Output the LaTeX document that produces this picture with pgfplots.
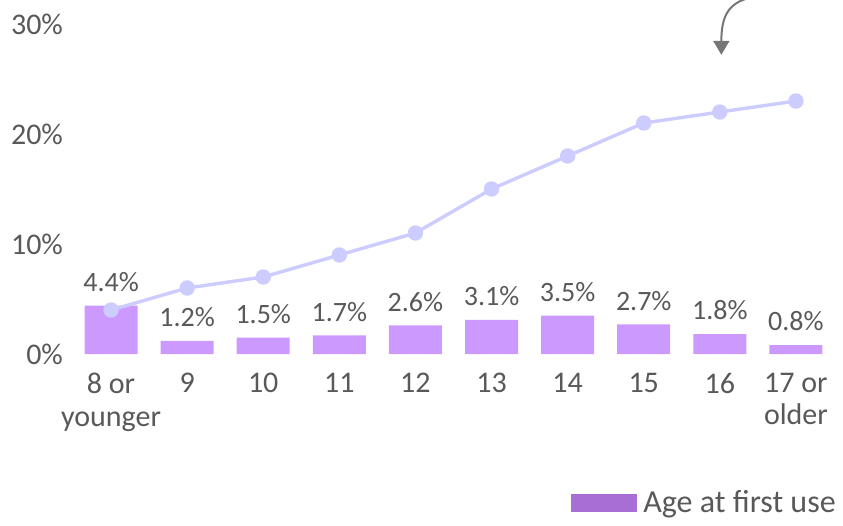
\documentclass[border=0pt]{standalone}
\usepackage{fontspec}
\setmainfont{Carlito}
\usepackage{pgfplots}
\pgfplotsset{compat=1.18}
\usetikzlibrary{calc,arrows.meta}

\definecolor{barpurple}{RGB}{204,153,255}
\definecolor{linelav}{RGB}{204,204,255}
\definecolor{legpurple}{RGB}{168,110,214}
\definecolor{txtgray}{RGB}{89,89,89}
\definecolor{arrowgray}{RGB}{118,118,118}

\begin{document}
\begin{tikzpicture}
\begin{axis}[
  name=ax,
  at={(0,0)}, anchor=south west,
  scale only axis,
  width=380.5pt, height=165pt,
  xmin=-0.5, xmax=9.5,
  ymin=0, ymax=30,
  clip=false,
  axis line style={draw=none},
  tick style={draw=none},
  /pgf/number format/assume math mode=true,
  ytick={0,10,20,30},
  yticklabels={0\%,10\%,20\%,30\%},
  yticklabel style={font=\fontsize{15}{16}\selectfont, text=txtgray, xshift=-1.5pt},
  xtick={0,...,9},
  xticklabels={{8 or\\younger},9,10,11,12,13,14,15,16,{17 or\\older}},
  xticklabel style={font=\fontsize{15}{16.3}\selectfont, text=txtgray, align=center, anchor=north, yshift=-6pt},
  legend style={at={(rel axis cs:1.012,-0.452)}, anchor=east, draw=none, fill=none,
    font=\fontsize{16}{18}\selectfont, text=txtgray, inner sep=0pt,
    nodes={inner xsep=3.5pt, inner ysep=0pt}},
  legend cell align=left,
]
\addplot[ybar, bar width=26.5pt, fill=barpurple, draw=none, forget plot,
  point meta=y,
  nodes near coords={\pgfmathprintnumber[fixed,precision=1,fixed zerofill]{\pgfplotspointmeta}\%},
  every node near coord/.append style={font=\fontsize{14}{15}\selectfont, text=txtgray, yshift=3.5pt}]
  coordinates {(0,4.4) (1,1.2) (2,1.5) (3,1.7) (4,2.6) (5,3.1) (6,3.5) (7,2.7) (8,1.8) (9,0.8)};
\addplot[color=linelav, line width=1.7pt, mark=*, mark size=3pt, forget plot]
  coordinates {(0,4.0) (1,6.0) (2,7.0) (3,9.0) (4,11.0) (5,15.0) (6,18.0) (7,21.0) (8,22.0) (9,23.0)};
\addlegendimage{legend image code/.code={\fill[legpurple] (0pt,-4.25pt) rectangle (32.5pt,4.25pt);}}
\addlegendentry{Age at first use}
\draw[arrowgray, line width=1pt, -{Triangle[length=7pt,width=8pt]}]
  (axis cs:8.4,32.4) .. controls (axis cs:8.1,31.9) and (axis cs:8.02,30.6) .. (axis cs:8.02,27.2);
\end{axis}
\pgfresetboundingbox
\path ($(ax.south west)+(-36.5pt,-86pt)$) rectangle ($(ax.south west)+(385pt,177pt)$);
\end{tikzpicture}
\end{document}
